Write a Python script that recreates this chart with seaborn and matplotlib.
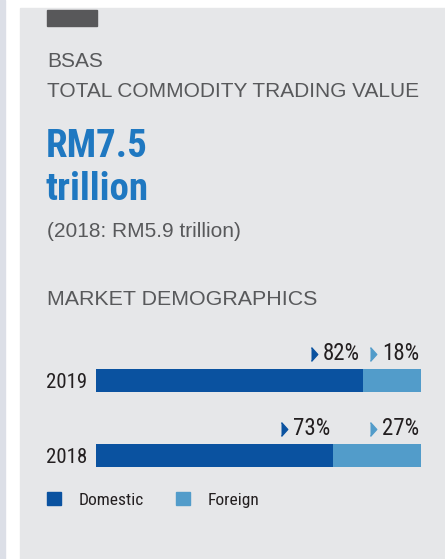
import numpy as np
import pandas as pd
import matplotlib.pyplot as plt
import matplotlib.patches as mpatches
from matplotlib.transforms import offset_copy
import seaborn as sns

# Data
years = ["2019", "2018"]
domestic = [82, 73]
foreign = [18, 27]
headline = ["RM7.5", "trillion"]
previous = "(2018: RM5.9 trillion)"

dom_color = "#0a52a0"
for_color = "#529cca"
grey_text = "#58595b"
num_text = "#231f20"
panel = "#e6e7e9"

W, H = 445, 559
sns.set_style("white")
plt.rcParams['font.family'] = ['Liberation Sans', 'DejaVu Sans']
narrow = ['Roboto Condensed', 'Liberation Sans', 'DejaVu Sans']

fig = plt.figure(figsize=(W / 100, H / 100), dpi=100, facecolor="white")


def fx(px):
    return px / W


def fy(py):
    return 1 - py / H


# background panels
fig.patches.append(mpatches.Rectangle((0, 0), fx(5), 1, transform=fig.transFigure,
                                      color="#dcdfe7", zorder=-3))
fig.patches.append(mpatches.Rectangle((fx(20), 0), 1, fy(8), transform=fig.transFigure,
                                      color=panel, zorder=-3))
fig.patches.append(mpatches.Rectangle((fx(47), fy(25.5)), fx(50), 15.5 / H,
                                      transform=fig.transFigure, color="#58585a", zorder=-2))

# header text
fig.text(fx(47), fy(67), "BSAS", fontsize=15, color=grey_text, va="baseline")
fig.text(fx(47), fy(97), "TOTAL COMMODITY TRADING VALUE", fontsize=15,
         color=grey_text, va="baseline")
fig.text(fx(46), fy(157), headline[0], fontsize=28, fontweight="bold",
         color="#1f78c1", va="baseline", family=narrow)
fig.text(fx(46), fy(200), headline[1], fontsize=28, fontweight="bold",
         color="#1f78c1", va="baseline", family=narrow)
fig.text(fx(47), fy(237), previous, fontsize=15, color=grey_text, va="baseline")
fig.text(fx(47), fy(305), "MARKET DEMOGRAPHICS", fontsize=15.4,
         color=grey_text, va="baseline")

# bars
df = pd.DataFrame({"year": years, "domestic": domestic, "foreign": foreign})
df["total"] = df["domestic"] + df["foreign"]

ax = fig.add_axes([fx(96), fy(490), (421 - 96) / W, (490 - 330) / H])
ax.set_facecolor("none")
sns.barplot(data=df, y="year", x="total", orient="h", color=for_color,
            width=0.3, saturation=1, linewidth=0, ax=ax)
sns.barplot(data=df, y="year", x="domestic", orient="h", color=dom_color,
            width=0.3, saturation=1, linewidth=0, ax=ax)
ax.set_xlim(0, 100)
ax.set_ylim(1.46, -0.673)
ax.set_xlabel("")
ax.set_ylabel("")
ax.set_xticks([])
sns.despine(ax=ax, left=True, bottom=True)
ax.tick_params(axis="y", length=0, pad=6.5)
for lab in ax.get_yticklabels():
    lab.set_fontfamily(narrow)
    lab.set_fontsize(15)
    lab.set_color(num_text)

tri = [(0, -1), (0.9, 0), (0, 1)]
for i, (d, f) in enumerate(zip(domestic, foreign)):
    for val, end, col in [(d, d, dom_color), (f, d + f, for_color)]:
        rx = -3 if end < 100 else -2
        ax.annotate(f"{val}%", xy=(end, i), xytext=(rx, 20.5), textcoords="offset pixels",
                    ha="right", va="baseline", fontsize=16.5, color=num_text,
                    family=narrow, annotation_clip=False)
        tr = offset_copy(ax.transData, fig=fig, x=rx - 49, y=26.5, units="dots")
        ax.plot([end], [i], marker=tri, ms=10, color=col, transform=tr,
                clip_on=False, linestyle="none")

handles = [mpatches.Patch(color=dom_color, label="Domestic"),
           mpatches.Patch(color=for_color, label="Foreign")]
fig.legend(handles=handles, loc="upper left", bbox_to_anchor=(fx(47), fy(492)),
           ncol=2, frameon=False, prop={"family": narrow, "size": 12.5},
           handlelength=0.8, handleheight=0.8, handletextpad=1.05,
           columnspacing=1.8, borderpad=0, borderaxespad=0, labelcolor=num_text)

fig.savefig("out.png", dpi=100, facecolor="white")
